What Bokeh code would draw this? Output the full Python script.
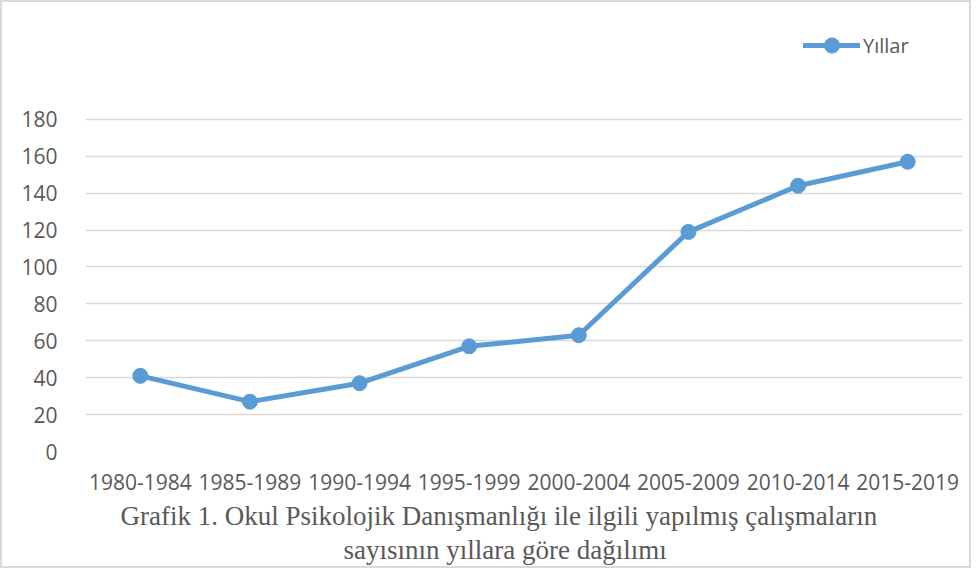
from bokeh.plotting import figure
from bokeh.models import Range1d, Legend, LegendItem, Title, FixedTicker
from bokeh.embed import file_html
from bokeh.resources import INLINE

categories = ["1980-1984", "1985-1989", "1990-1994", "1995-1999",
              "2000-2004", "2005-2009", "2010-2014", "2015-2019"]
values = [41, 27, 37, 57, 63, 119, 144, 157]
y_ticks = [0, 20, 40, 60, 80, 100, 120, 140, 160, 180]
series_name = "Yıllar"
caption_line1 = "Grafik 1. Okul Psikolojik Danışmanlığı ile ilgili yapılmış çalışmaların"
caption_line2 = "sayısının yıllara göre dağılımı"

BLUE = "#5B9BD5"
GRID = "#d9d9d9"
TEXT = "#595959"

p = figure(x_range=categories, y_range=Range1d(0, 239),
           width=971, height=568, output_backend="svg", toolbar_location=None,
           min_border_left=83, min_border_right=11, min_border_top=8,
           min_border_bottom=119)
p.outline_line_color = None
p.background_fill_color = "white"
p.border_fill_color = "white"

ln = p.line(categories, values, line_color=BLUE, line_width=5, line_cap="round",
            line_join="round")
sc = p.scatter(categories, values, size=15, fill_color=BLUE, line_color=BLUE)

p.yaxis.ticker = FixedTicker(ticks=y_ticks)
for ax in (p.xaxis[0], p.yaxis[0]):
    ax.axis_line_color = None
    ax.major_tick_line_color = None
    ax.minor_tick_line_color = None
    ax.major_label_text_font = "Open Sans"
    ax.major_label_text_font_size = "21px"
    ax.major_label_text_color = TEXT
p.yaxis.major_label_standoff = 22
p.xaxis.major_label_standoff = 16

p.xgrid.grid_line_color = None
p.ygrid.grid_line_color = GRID
p.ygrid.grid_line_width = 1.5

legend = Legend(items=[LegendItem(label=series_name, renderers=[ln, sc])],
                location=(718, 387), orientation="horizontal",
                glyph_width=57, glyph_height=38, label_standoff=3,
                padding=0, margin=0, border_line_color=None,
                background_fill_alpha=0,
                label_text_font="Open Sans", label_text_font_size="20px",
                label_text_color=TEXT)
p.add_layout(legend, "center")

t1 = Title(text=caption_line1, align="left", offset=35,
           text_font="Liberation Serif", text_font_size="27px",
           text_font_style="normal", text_color=TEXT, standoff=13)
t2 = Title(text=caption_line2, align="left", offset=258,
           text_font="Liberation Serif", text_font_size="27px",
           text_font_style="normal", text_color=TEXT, standoff=-10)
p.add_layout(t1, "below")
p.add_layout(t2, "below")

p.styles = {"border": "2px solid #d9d9d9", "box-sizing": "border-box"}

open("out.html", "w").write(file_html(p, INLINE))
